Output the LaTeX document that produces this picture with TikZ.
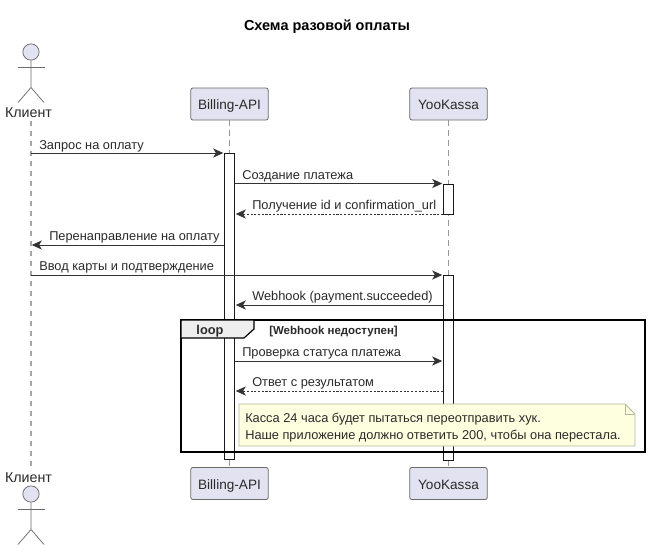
\documentclass[tikz,border=0pt]{standalone}
\usepackage{fontspec}
\setmainfont{Liberation Sans}
\usetikzlibrary{arrows.meta,calc}
\definecolor{boxfill}{HTML}{E2E2F0}
\definecolor{boxline}{HTML}{6A6A6A}
\definecolor{notefill}{HTML}{FDFFDE}
\definecolor{noteline}{HTML}{B8B89A}
\definecolor{tabfill}{HTML}{EEEEEE}
\definecolor{txt}{HTML}{2A2A2A}
\tikzset{
 part/.style={draw=boxline,fill=boxfill,rounded corners=1.5pt,line width=0.6pt,minimum width=58pt,minimum height=24pt,inner sep=0pt,font=\fontsize{10.2pt}{12pt}\selectfont,text=txt,text height=8.5pt,text depth=0pt},
 actorlab/.style={inner sep=0pt,anchor=base,font=\fontsize{10.7pt}{12pt}\selectfont,text=txt},
 actorline/.style={draw=boxline,line width=0.55pt},
 lifeline/.style={draw=boxline!70,line width=0.6pt,dash pattern=on 4pt off 3.5pt},
 bar/.style={draw=black!90,fill=white,line width=0.7pt,minimum width=7.5pt,inner sep=0pt,anchor=north},
 msg/.style={draw=black!80,line width=0.7pt,shorten >=0.6pt,-{Stealth[length=7.5pt,width=6.8pt,inset=2pt]}},
 ret/.style={msg,dash pattern=on 1.6pt off 1.2pt,line width=0.55pt},
 lab/.style={inner sep=0pt,anchor=base west,font=\fontsize{9.6pt}{11pt}\selectfont,text=txt},
 frame/.style={draw=black,line width=1.1pt},
}
\begin{document}
\begin{tikzpicture}[x=0.75pt,y=-0.75pt]
\useasboundingbox (0,0) rectangle (651,551);
\fill[white] (0,0) rectangle (651,551);
\node[inner sep=0pt,anchor=base,font=\fontsize{10.85pt}{12pt}\selectfont\bfseries,text=black] (title) at (327,30.5) {Схема разовой оплаты};
% participants
\node[part] (bt) at (229.5,104) {Billing-API};
\node[part] (bb) at (229.5,483.5) {Billing-API};
\node[part] (yt) at (448.5,104) {YooKassa};
\node[part] (yb) at (448.5,483.5) {YooKassa};
% actors
\node[actorlab] (kt) at (28.5,117.5) {Клиент};
\node[actorlab] (kb) at (28.5,482.5) {Клиент};
\coordinate (ktop) at (31,121);
\coordinate (kbot) at (31,466);
\draw[lifeline,draw=boxline!60,line width=0.9pt] (ktop) -- (kbot);
\draw[lifeline] (bt.south) -- (bb.north);
\draw[lifeline] (yt.south) -- (yb.north);
\foreach \y/\n in {52/ha,494/hb}{
 \node[circle,draw=boxline,fill=boxfill,line width=0.55pt,minimum size=12.2pt,inner sep=0pt] (\n) at (31,\y) {};
 \draw[actorline] (\n.south) -- ++(0,27) -- ++(-13,15) ++(13,-15) -- ++(13,15);
 \draw[actorline] (18,\y+15.5) -- (45,\y+15.5);
}
% activations
\node[bar,minimum height=229.5pt] (ba) at (229.5,153) {};
\node[bar,minimum height=23pt] (y1) at (448.5,183.5) {};
\node[bar,minimum height=139pt] (y2) at (448.5,275) {};
% loop
\draw[frame] (181,320) rectangle (645,452);
\draw[frame,line width=0.9pt,fill=tabfill] (181,320) -- (254,320) -- (254,329) -- (244,338) -- (181,338) -- cycle;
\node[inner sep=0pt,anchor=base,font=\fontsize{9.6pt}{12pt}\selectfont\bfseries,text=txt] (looplab) at (210,334) {loop};
\node[inner sep=0pt,anchor=base west,font=\fontsize{8.6pt}{10pt}\selectfont\bfseries,text=txt] (guard) at (269,334) {[Webhook недоступен]};
% note
\draw[draw=noteline,fill=notefill,line width=0.6pt] (239,404) -- (625,404) -- (635,414) -- (635,446) -- (239,446) -- cycle;
\draw[draw=noteline,line width=0.6pt] (625,404) -- (625,414) -- (635,414);
\node[lab] (n1) at (245,422.5) {Касса 24 часа будет пытаться переотправить хук.};
\node[lab] (n2) at (245,439.5) {Наше приложение должно ответить 200, чтобы она перестала.};
% messages
\draw[msg] (ktop |- 0,153) -- (ba.west |- 0,153);
\node[lab] (m1) at (39,149) {Запрос на оплату};
\draw[msg] (ba.east |- 0,183.5) -- (y1.west |- 0,183.5);
\node[lab] (m2) at (242,179) {Создание платежа};
\draw[ret] (y1.west |- 0,214) -- (ba.east |- 0,214);
\node[lab] (m3) at (252,209) {Получение id и confirmation\_url};
\draw[msg] (ba.west |- 0,245) -- (ktop |- 0,245);
\node[lab] (m4) at (49,240) {Перенаправление на оплату};
\draw[msg] (ktop |- 0,275) -- (y2.west |- 0,275);
\node[lab] (m5) at (39,270) {Ввод карты и подтверждение};
\draw[msg] (y2.west |- 0,305) -- (ba.east |- 0,305);
\node[lab] (m6) at (252,300) {Webhook (payment.succeeded)};
\draw[msg] (ba.east |- 0,361) -- (y2.west |- 0,361);
\node[lab] (m7) at (242,356) {Проверка статуса платежа};
\draw[ret] (y2.west |- 0,391) -- (ba.east |- 0,391);
\node[lab] (m8) at (252,386.5) {Ответ с результатом};
\end{tikzpicture}
\end{document}
